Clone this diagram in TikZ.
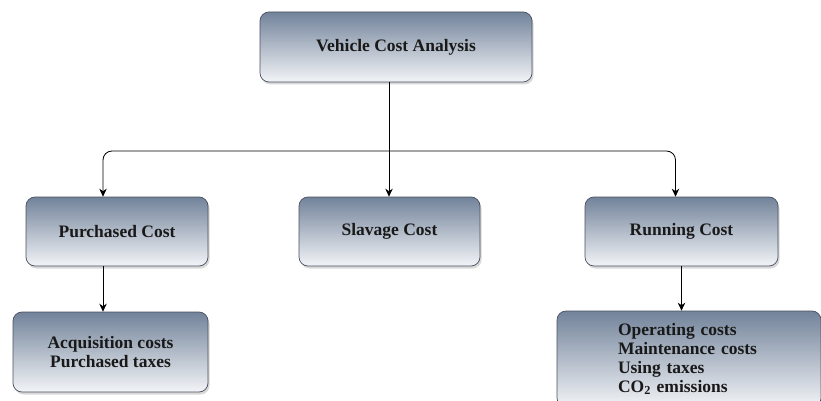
\documentclass[tikz,border=0pt]{standalone}
\usepackage{fontspec}
\setmainfont{Liberation Serif}
\usetikzlibrary{shadows,arrows.meta}
\definecolor{boxtop}{HTML}{72839A}
\definecolor{boxbot}{HTML}{F2F4F7}
\definecolor{boxedge}{HTML}{4A5060}
\begin{document}
\begin{tikzpicture}[x=1pt,y=-1pt,
  card/.style={draw=boxedge, line width=0.7pt, rounded corners=9pt,
    top color=boxtop, bottom color=boxbot,
    drop shadow={shadow xshift=1.5pt, shadow yshift=-2.5pt, fill=black!30},
    font=\bfseries\fontsize{17.5}{19}\selectfont, text=black!90, inner sep=0pt},
  link/.style={line width=0.8pt, black},
  arr/.style={link, -{Stealth[length=8pt,width=7.5pt]}}]
\useasboundingbox (0,0) rectangle (821,401);
\begin{scope}
\clip (0,0) rectangle (821,401);
% boxes
\node[card, minimum width=272, minimum height=70] (top) at (396,47) {Vehicle Cost Analysis};
\node[card, minimum width=182, minimum height=69] (purch) at (117,231.5) {Purchased Cost};
\node[card, minimum width=181, minimum height=69] (slav) at (389.5,231.5) {Slavage Cost};
\node[card, minimum width=193, minimum height=69] (run) at (681.5,231.5) {Running Cost};
\node[card, minimum width=195, minimum height=80, align=center] (acq) at (110.5,352) {Acquisition costs\\Purchased taxes};
\node[card, minimum width=264, minimum height=96, text width=142, inner xsep=61, align=left] (rdet) at (689,359) {Operating costs\\Maintenance costs\\Using taxes\\CO\textsubscript{2} emissions};
\end{scope}
% connectors
\coordinate (bus) at (389,151);
\draw[link] (top.south -| bus) -- (bus);
\draw[arr] (bus) -- (slav.north -| bus);
\draw[arr, rounded corners=9pt] (bus) -| ([xshift=-14]purch.north);
\draw[arr, rounded corners=9pt] (bus) -| ([xshift=-6]run.north);
\draw[arr] ([xshift=-14]purch.south) -- ([xshift=-14]purch.south |- acq.north);
\draw[arr] (run.south) -- (run.south |- rdet.north);
\end{tikzpicture}
\end{document}
